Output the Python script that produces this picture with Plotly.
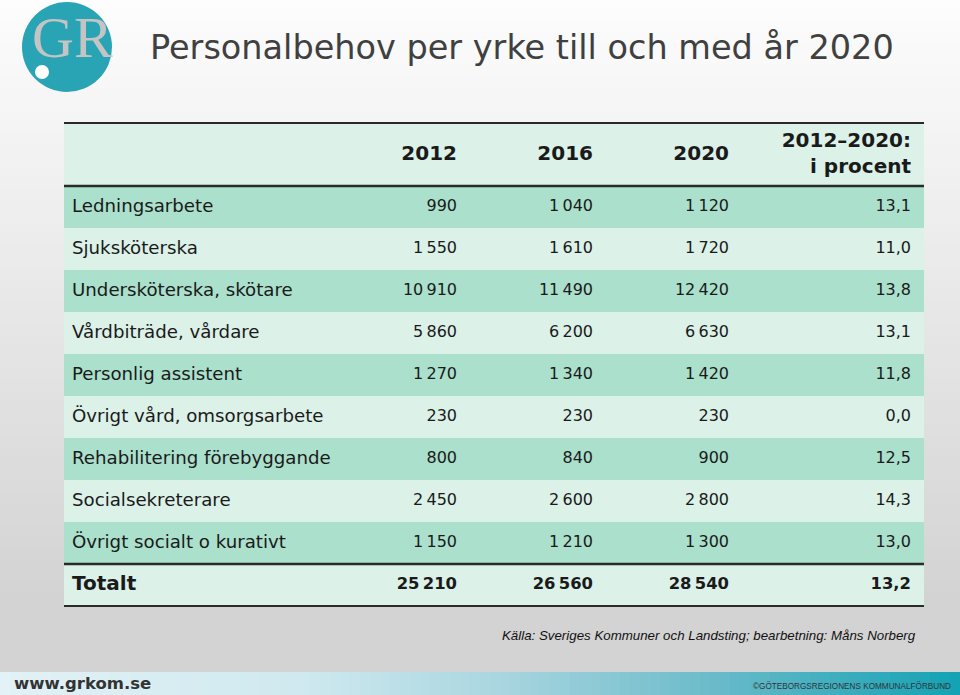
"""
Personalbehov per yrke till och med år 2020 - tabell som Plotly-figur
"""
import plotly.graph_objects as go

W, H = 960, 695

# data
yrken = [
    "Ledningsarbete",
    "Sjuksköterska",
    "Undersköterska, skötare",
    "Vårdbiträde, vårdare",
    "Personlig assistent",
    "Övrigt vård, omsorgsarbete",
    "Rehabilitering förebyggande",
    "Socialsekreterare",
    "Övrigt socialt o kurativt",
]
ar_2012 = [990, 1550, 10910, 5860, 1270, 230, 800, 2450, 1150]
ar_2016 = [1040, 1610, 11490, 6200, 1340, 230, 840, 2600, 1210]
ar_2020 = [1120, 1720, 12420, 6630, 1420, 230, 900, 2800, 1300]
procent = [13.1, 11.0, 13.8, 13.1, 11.8, 0.0, 12.5, 14.3, 13.0]
totalt = [25210, 26560, 28540, 13.2]
kolumner = ["2012", "2016", "2020", "2012–2020:<br>i procent"]

TITLE = "Personalbehov per yrke till och med år 2020"
SOURCE = "Källa: Sveriges Kommuner och Landsting; bearbetning: Måns Norberg"

DARK = "#aae0cc"
LIGHT = "#dcf1e8"
TXT = "#1a1a1a"
FONT = "DejaVu Sans, Verdana, sans-serif"


def tal(v):
    return f"{v:,}".replace(",", "\u2009")


def pct(v):
    return f"{v:.1f}".replace(".", ",")


def px(x, y):
    # pixel -> paper
    return x / W, 1 - y / H


def lerp_hex(c1, c2, t):
    a = [int(c1[i:i + 2], 16) for i in (1, 3, 5)]
    b = [int(c2[i:i + 2], 16) for i in (1, 3, 5)]
    return "#" + "".join(f"{round(a[i] + (b[i] - a[i]) * t):02x}" for i in range(3))


n = len(yrken)
rows = list(range(n + 1))          # 0..8 yrken, 9 = Totalt
labels = yrken + ["<b>Totalt</b>"]

fig = go.Figure()

# radbakgrunder
fig.add_trace(go.Bar(
    orientation="h",
    y=[-1.25] + rows,
    x=[860] * (n + 2),
    base=64,
    width=[1.5] + [1] * (n + 1),
    marker=dict(color=[LIGHT] + [DARK if r % 2 == 0 else LIGHT for r in rows], line_width=0),
    hoverinfo="skip",
    showlegend=False,
))

# yrkesnamn
fig.add_trace(go.Scatter(
    x=[72] * (n + 1), y=rows, text=labels, mode="text",
    textposition="middle right",
    textfont=dict(family=FONT, size=[18.2] * n + [20], color=TXT),
    hoverinfo="skip", showlegend=False,
))

# sifferkolumner
col_x = [457, 593, 729, 911]
cols = [
    [tal(v) for v in ar_2012] + [f"<b>{tal(totalt[0])}</b>"],
    [tal(v) for v in ar_2016] + [f"<b>{tal(totalt[1])}</b>"],
    [tal(v) for v in ar_2020] + [f"<b>{tal(totalt[2])}</b>"],
    [pct(v) for v in procent] + [f"<b>{pct(totalt[3])}</b>"],
]
for cx, vals in zip(col_x, cols):
    fig.add_trace(go.Scatter(
        x=[cx] * (n + 1), y=rows, text=vals, mode="text",
        textposition="middle left",
        textfont=dict(family=FONT, size=[16] * n + [16.4], color=TXT),
        hoverinfo="skip", showlegend=False,
    ))

# kolumnrubriker
fig.add_trace(go.Scatter(
    x=col_x, y=[-1.25] * 4, text=[f"<b>{k}</b>" for k in kolumner], mode="text",
    textposition="middle left",
    textfont=dict(family=FONT, size=20, color=TXT),
    hoverinfo="skip", showlegend=False,
))

shapes = []

# bakgrund: vertikal gradient
steps = 60
for i in range(steps):
    y0 = 672 * i / steps
    y1 = 672 * (i + 1) / steps
    t = min(1.0, (y0 + y1) / 2 / 600)
    x0p, y0p = px(0, y0)
    x1p, y1p = px(W, y1)
    shapes.append(dict(type="rect", xref="paper", yref="paper", x0=x0p, x1=x1p,
                       y0=y1p, y1=y0p + 0.002, fillcolor=lerp_hex("#fdfdfd", "#d3d3d3", t),
                       line_width=0, layer="below"))

# sidfot: horisontell gradient
stops = [(0, "#e2f2f6"), (300, "#cfe9ef"), (500, "#a9d6e0"), (700, "#6fbccb"), (960, "#12a2b4")]
fsteps = 96
for i in range(fsteps):
    xa = W * i / fsteps
    xm = xa + W / fsteps / 2
    for (s0, c0), (s1, c1) in zip(stops[:-1], stops[1:]):
        if s0 <= xm <= s1:
            col = lerp_hex(c0, c1, (xm - s0) / (s1 - s0))
            break
    x0p, y0p = px(xa, 672)
    x1p, y1p = px(xa + W / fsteps + 0.5, H)
    shapes.append(dict(type="rect", xref="paper", yref="paper", x0=x0p, x1=x1p,
                       y0=y1p, y1=y0p, fillcolor=col, line_width=0, layer="below"))

# tabellinjer
for yv, w in [(-2, 2), (-0.5, 2.5), (8.5, 2.5), (9.5, 2)]:
    shapes.append(dict(type="line", xref="x", yref="y", x0=64, x1=924, y0=yv, y1=yv,
                       line=dict(color="#2a2a2a", width=w), layer="above"))

# logotyp
cx0, cy0 = px(22, 2)
cx1, cy1 = px(112, 92)
shapes.append(dict(type="circle", xref="paper", yref="paper", x0=cx0, x1=cx1, y0=cy1, y1=cy0,
                   fillcolor="#29a4b4", line_width=0, layer="above"))
dx0, dy0 = px(35, 65)
dx1, dy1 = px(49, 79)
shapes.append(dict(type="circle", xref="paper", yref="paper", x0=dx0, x1=dx1, y0=dy1, y1=dy0,
                   fillcolor="#ffffff", line_width=0, layer="above"))

annotations = []


def text(x, y, s, size, color, xanchor="left", family=FONT, **kw):
    xp, yp = px(x, y)
    annotations.append(dict(x=xp, y=yp, xref="paper", yref="paper", text=s, showarrow=False,
                            xanchor=xanchor, yanchor="middle",
                            font=dict(family=family, size=size, color=color), **kw))


text(30, 37, "GR", 58, "#c4c4c4", family="Liberation Serif, Times New Roman, serif")
text(148, 48, TITLE, 33.5, "#404040")
text(918, 635, f"<i>{SOURCE}</i>", 13.3, "#111111", xanchor="right",
     family="Liberation Sans, Arial, sans-serif")
text(12, 683, "<b>www.grkom.se</b>", 16.5, "#333333")
text(953, 686, "©GÖTEBORGSREGIONENS KOMMUNALFÖRBUND", 8.2, "#333333", xanchor="right",
     family="Liberation Sans, Arial, sans-serif")

fig.update_layout(
    width=W, height=H,
    margin=dict(l=0, r=0, t=0, b=0),
    paper_bgcolor="#e8e8e8",
    plot_bgcolor="rgba(0,0,0,0)",
    xaxis=dict(range=[0, W], visible=False, fixedrange=True),
    yaxis=dict(range=[(H - 207) / 42, -207 / 42], visible=False, fixedrange=True),
    bargap=0,
    shapes=shapes,
    annotations=annotations,
    showlegend=False,
)

fig.write_html("out.html", config={"displayModeBar": False},
               post_script="document.body.style.margin='0';")
